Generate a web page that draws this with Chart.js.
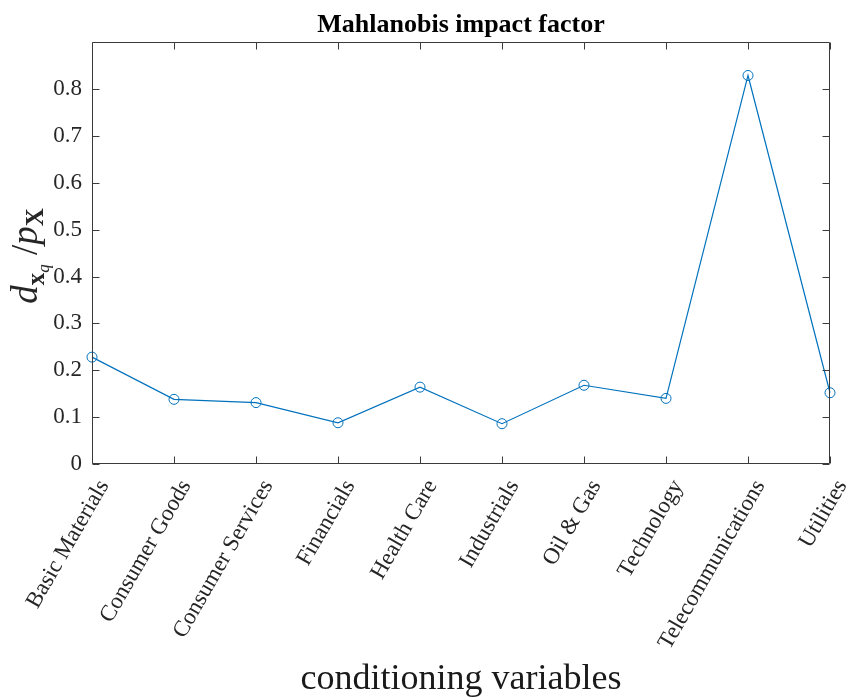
<!DOCTYPE html>
<html>
<head>
<meta charset="utf-8">
<script src="https://cdn.jsdelivr.net/npm/chart.js@4/dist/chart.umd.min.js"></script>
<style>
html,body{margin:0;padding:0;background:#fff;}
#wrap{width:851px;height:698px;position:relative;}
canvas{display:block;}
</style>
</head>
<body>
<div id="wrap"><canvas id="c" width="851" height="698"></canvas></div>
<script>
// ---- data ----
const categories = ['Basic Materials','Consumer Goods','Consumer Services','Financials','Health Care','Industrials','Oil & Gas','Technology','Telecommunications','Utilities'];
const impactValues = [0.228, 0.138, 0.131, 0.088, 0.164, 0.086, 0.168, 0.140, 0.829, 0.152];
const yTickValues = [0, 0.1, 0.2, 0.3, 0.4, 0.5, 0.6, 0.7, 0.8];
const yLimits = [0, 0.9];
const chartTitle = 'Mahlanobis impact factor';
const xAxisTitle = 'conditioning variables';

const SERIF = '"Liberation Serif", "DejaVu Serif", serif';
const AXIS_COLOR = '#3a3a3a';
const TEXT_COLOR = '#262626';

// box + inward ticks (MATLAB style)
const boxPlugin = {
  id: 'boxTicks',
  afterDatasetsDraw(chart) {
    const {ctx, chartArea: a, scales: {x, y}} = chart;
    const L = Math.round(a.left) + 0.5, R = Math.round(a.right) - 0.5;
    const T = Math.round(a.top) + 0.5, B = Math.round(a.bottom) - 0.5;
    const len = 7;
    ctx.save();
    ctx.strokeStyle = AXIS_COLOR;
    ctx.lineWidth = 1;
    ctx.beginPath();
    ctx.rect(L, T, R - L, B - T);
    for (let i = 0; i < categories.length; i++) {
      const px = Math.round(x.getPixelForValue(i)) + 0.5;
      ctx.moveTo(px, B); ctx.lineTo(px, B - len);
      ctx.moveTo(px, T); ctx.lineTo(px, T + len);
    }
    yTickValues.forEach(v => {
      const py = Math.round(y.getPixelForValue(v)) + 0.5;
      ctx.moveTo(L, py); ctx.lineTo(L + len, py);
      ctx.moveTo(R, py); ctx.lineTo(R - len, py);
    });
    ctx.stroke();
    ctx.restore();
  }
};

// y-axis math label: d_{x_q} / p_X
const yLabelPlugin = {
  id: 'yMathLabel',
  afterDraw(chart) {
    const {ctx} = chart;
    const parts = [
      {t: 'd', f: 'italic 37px ' + SERIF, dy: 0},
      {t: 'x', f: 'bold 25px ' + SERIF, dy: 7},
      {t: 'q', f: 'italic 17px ' + SERIF, dy: 12},
      {t: ' /', f: '37px ' + SERIF, dy: 0},
      {t: 'p', f: 'italic 37px ' + SERIF, dy: 0},
      {t: 'X', f: 'bold 25px ' + SERIF, dy: 6}
    ];
    ctx.save();
    let total = 0;
    parts.forEach(p => { ctx.font = p.f; p.w = ctx.measureText(p.t).width; total += p.w; });
    ctx.translate(37, 256);
    ctx.rotate(-Math.PI / 2);
    ctx.fillStyle = TEXT_COLOR;
    ctx.textBaseline = 'alphabetic';
    let xx = -total / 2;
    parts.forEach(p => { ctx.font = p.f; ctx.fillText(p.t, xx, p.dy); xx += p.w; });
    ctx.restore();
  }
};

new Chart(document.getElementById('c'), {
  type: 'line',
  data: {
    labels: categories,
    datasets: [{
      data: impactValues,
      borderColor: '#0072BD',
      borderWidth: 1.2,
      backgroundColor: 'rgba(0,0,0,0)',
      pointStyle: 'circle',
      pointRadius: 5,
      pointBorderWidth: 1,
      pointBorderColor: '#0072BD',
      pointBackgroundColor: 'rgba(0,0,0,0)',
      tension: 0,
      fill: false,
      clip: false
    }]
  },
  options: {
    responsive: false,
    devicePixelRatio: 1,
    animation: false,
    layout: {padding: {left: 0, right: 21, top: 0, bottom: 0}},
    plugins: {
      legend: {display: false},
      tooltip: {enabled: false},
      title: {
        display: true,
        fullSize: false,
        text: chartTitle,
        color: '#000',
        font: {family: SERIF, size: 26, weight: 'bold', lineHeight: 1.2},
        padding: {top: 10, bottom: 1}
      }
    },
    scales: {
      x: {
        type: 'category',
        offset: false,
        grid: {display: false, drawTicks: false},
        border: {display: false},
        ticks: {
          autoSkip: false, maxRotation: 60, minRotation: 60,
          color: TEXT_COLOR, padding: 11, labelOffset: 12,
          font: {family: SERIF, size: 23}
        },
        title: {
          display: true, text: xAxisTitle, color: '#1a1a1a',
          font: {family: SERIF, size: 36, lineHeight: 1},
          padding: {top: 0, bottom: 0}
        },
        afterFit(s) { s.height = 698 - 464; s.paddingLeft = 0; s.paddingRight = 0; }
      },
      y: {
        min: yLimits[0], max: yLimits[1],
        grid: {display: false, drawTicks: false},
        border: {display: false},
        afterBuildTicks(s) { s.ticks = yTickValues.map(v => ({value: v})); },
        ticks: {
          color: TEXT_COLOR, padding: 10,
          font: {family: SERIF, size: 23},
          callback: v => String(Math.round(v * 10) / 10)
        },
        afterFit(s) { s.width = 92; s.paddingTop = 0; s.paddingBottom = 0; }
      }
    }
  },
  plugins: [boxPlugin, yLabelPlugin]
});
</script>
</body>
</html>
